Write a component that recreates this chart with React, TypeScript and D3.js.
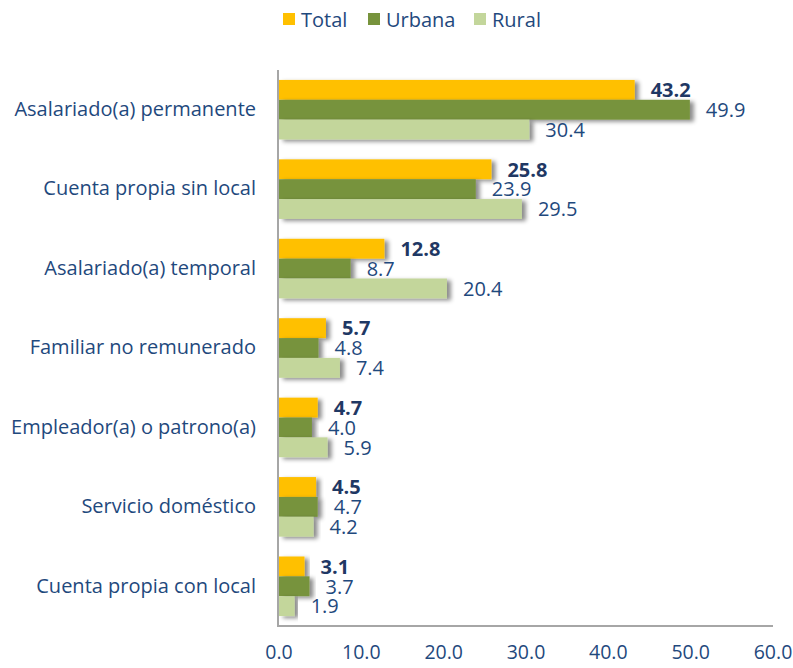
import React from 'react';
import { scaleLinear, scaleBand } from 'd3';

const categories = [
	'Asalariado(a) permanente',
	'Cuenta propia sin local',
	'Asalariado(a) temporal',
	'Familiar no remunerado',
	'Empleador(a) o patrono(a)',
	'Servicio doméstico',
	'Cuenta propia con local',
];
const seriesNames = ['Total', 'Urbana', 'Rural'];
const totalValues = [43.2, 25.8, 12.8, 5.7, 4.7, 4.5, 3.1];
const urbanaValues = [49.9, 23.9, 8.7, 4.8, 4.0, 4.7, 3.7];
const ruralValues = [30.4, 29.5, 20.4, 7.4, 5.9, 4.2, 1.9];
const xTicks = [0, 10, 20, 30, 40, 50, 60];

const colors = ['#FFC000', '#77933C', '#C3D69B'];
const textColor = '#1F3864';
const labelColor = '#1F497D';
const fontFamily = '"Open Sans", "Noto Sans", sans-serif';

const App = () => {
	const width = 793;
	const height = 668;
	const left = 279;
	const right = 773;
	const top = 70;
	const bottom = 626;

	const x = scaleLinear().domain([0, 60]).range([left, right]);
	const y = scaleBand().domain(categories).range([top, bottom]).paddingInner(0.25).paddingOuter(0.125);
	const inner = scaleBand().domain(seriesNames).range([0, y.bandwidth()]);
	const series = [totalValues, urbanaValues, ruralValues];

	// legend positions
	const legendX = [283, 368, 474];

	return (
		<svg width={width} height={height} style={{ position: 'absolute', left: 0, top: 0 }}>
			<defs>
				<filter id="barShadow" x="-10%" y="-30%" width="130%" height="190%">
					<feDropShadow dx="4" dy="2" stdDeviation="2" floodColor="#000" floodOpacity="0.45" />
				</filter>
			</defs>
			<rect width={width} height={height} fill="#fff" />

			{/* legend */}
			{seriesNames.map((s, i) => (
				<g key={s}>
					<rect x={legendX[i]} y={13} width={12} height={12} fill={colors[i]} />
					<text x={legendX[i] + 18} y={27} fontSize={20} fill={labelColor} fontFamily={fontFamily}>
						{s}
					</text>
				</g>
			))}

			{/* bars */}
			{categories.map((c, ci) => (
				<g key={c} transform={`translate(0, ${y(c)})`}>
					{series.map((vals, si) => {
						const yy = inner(seriesNames[si]) as number;
						return (
							<rect
								key={si}
								x={x(0)}
								y={yy}
								width={x(vals[ci]) - x(0)}
								height={inner.bandwidth()}
								fill={colors[si]}
								filter="url(#barShadow)"
							/>
						);
					})}
					{series.map((vals, si) => {
						const yy = (inner(seriesNames[si]) as number) + inner.bandwidth() / 2;
						return (
							<text
								key={'l' + si}
								x={x(vals[ci]) + 16}
								y={yy + 2}
								dominantBaseline="middle"
								fontSize={20}
								fontWeight={si === 0 ? 700 : 400}
								fill={si === 0 ? textColor : labelColor}
								fontFamily={fontFamily}>
								{vals[ci].toFixed(1)}
							</text>
						);
					})}
					<text
						x={256}
						y={y.bandwidth() / 2 + 1}
						textAnchor="end"
						dominantBaseline="middle"
						fontSize={20}
						fill={labelColor}
						fontFamily={fontFamily}>
						{c}
					</text>
				</g>
			))}

			{/* axes */}
			<line x1={left - 1} x2={left - 1} y1={top} y2={bottom} stroke="#A6A6A6" strokeWidth={2} />
			<line x1={left - 2} x2={right} y1={bottom} y2={bottom} stroke="#A6A6A6" strokeWidth={2} />
			{xTicks.map((t) => (
				<text
					key={t}
					x={x(t)}
					y={659}
					textAnchor="middle"
					fontSize={19.5}
					fill={labelColor}
					fontFamily={fontFamily}>
					{t.toFixed(1)}
				</text>
			))}
		</svg>
	);
};

export default App;
